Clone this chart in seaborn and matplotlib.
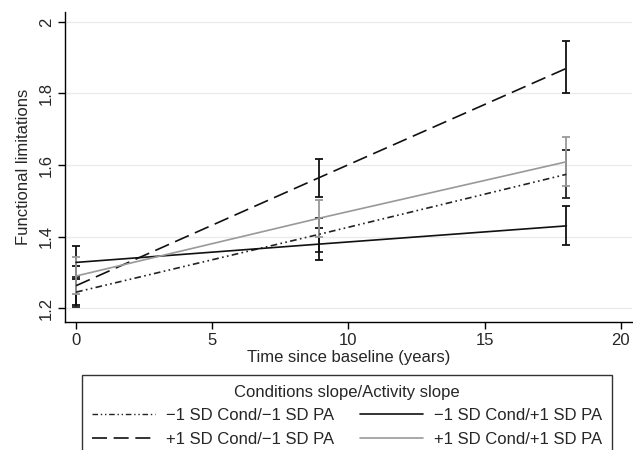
import matplotlib
matplotlib.use("Agg")
import matplotlib.pyplot as plt
import seaborn as sns
import pandas as pd
import numpy as np
from matplotlib.lines import Line2D

sns.set_style("white")
plt.rcParams['font.family'] = ['Liberation Sans', 'DejaVu Sans']

# ---- data ----
times = [0, 8.9, 18]
series = ["\u22121 SD Cond/\u22121 SD PA", "\u22121 SD Cond/+1 SD PA",
          "+1 SD Cond/\u22121 SD PA", "+1 SD Cond/+1 SD PA"]
mm_mean = [1.245, 1.406, 1.574]
mm_lo   = [1.203, 1.357, 1.508]
mm_hi   = [1.288, 1.453, 1.642]
mp_mean = [1.328, 1.379, 1.430]
mp_lo   = [1.283, 1.334, 1.378]
mp_hi   = [1.373, 1.423, 1.485]
pm_mean = [1.263, 1.564, 1.870]
pm_lo   = [1.210, 1.511, 1.800]
pm_hi   = [1.317, 1.618, 1.946]
pp_mean = [1.290, 1.451, 1.609]
pp_lo   = [1.240, 1.398, 1.541]
pp_hi   = [1.342, 1.501, 1.679]
legend_title = "Conditions slope/Activity slope"
xlabel = "Time since baseline (years)"
ylabel = "Functional limitations"
xticks = [0, 5, 10, 15, 20]
yticks = [1.2, 1.4, 1.6, 1.8, 2.0]
ytick_labels = ["1.2", "1.4", "1.6", "1.8", "2"]

means = [mm_mean, mp_mean, pm_mean, pp_mean]
los = [mm_lo, mp_lo, pm_lo, pp_lo]
his = [mm_hi, mp_hi, pm_hi, pp_hi]

rows = []
for s, m, lo, hi in zip(series, means, los, his):
    for t, v, l, h in zip(times, m, lo, hi):
        rows.append(dict(time=t, value=v, lo=l, hi=h, group=s))
df = pd.DataFrame(rows)

colors = {series[0]: "#222222", series[1]: "#111111",
          series[2]: "#111111", series[3]: "#999999"}
dashes = {series[0]: (4, 2, 1, 2, 1, 2), series[1]: "",
          series[2]: (9, 4), series[3]: ""}

fig = plt.figure(figsize=(6.33, 4.5), dpi=100)
ax = fig.add_axes([0.103, 0.284, 0.895, 0.689])

# error bars
for s in series:
    d = df[df.group == s]
    ax.errorbar(d.time, d.value, yerr=[d.value - d.lo, d.hi - d.value],
                fmt='none', ecolor=colors[s], elinewidth=1.3, capsize=3,
                capthick=1.3, zorder=2)

sns.lineplot(data=df, x="time", y="value", hue="group", style="group",
             hue_order=series, style_order=series, palette=colors,
             dashes=dashes, linewidth=1.2, ax=ax, legend=False, zorder=3)

ax.set_xlim(-0.4, 20.4)
ax.set_ylim(1.161, 2.027)
ax.set_xticks(xticks)
ax.set_yticks(yticks)
ax.set_yticklabels(ytick_labels, rotation=90, va='center')
ax.tick_params(axis='both', direction='out', length=5, width=1, color='black',
               labelsize=12, left=True, bottom=True, pad=3)
ax.grid(axis='y', color='#eaeaea', linewidth=0.9)
ax.set_axisbelow(True)
for sp in ['top', 'right']:
    ax.spines[sp].set_visible(False)
for sp in ['left', 'bottom']:
    ax.spines[sp].set_color('black')
    ax.spines[sp].set_linewidth(1)
ax.set_xlabel(xlabel, fontsize=12, labelpad=1)
ax.set_ylabel(ylabel, fontsize=12, labelpad=6)

# legend (column-wise fill: col1 = series0, series2 ; col2 = series1, series3)
order = [0, 2, 1, 3]
handles = []
for i in order:
    s = series[i]
    ls = (0, dashes[s]) if dashes[s] != "" else '-'
    handles.append(Line2D([0], [0], color=colors[s], linewidth=1.2 if i != 0 else 1.0,
                          linestyle=ls))
labels = [series[i] for i in order]
leg = fig.legend(handles, labels, ncol=2, title=legend_title,
                 loc='upper center', bbox_to_anchor=(0.548, 0.1667),
                 fontsize=12, title_fontsize=12, frameon=True, fancybox=False,
                 handlelength=3.8, columnspacing=1.55, handletextpad=0.65,
                 borderaxespad=0, labelspacing=0.5, borderpad=0.6)
leg.get_frame().set_edgecolor('black')
leg.get_frame().set_linewidth(1)

fig.savefig("out.png", dpi=100)
